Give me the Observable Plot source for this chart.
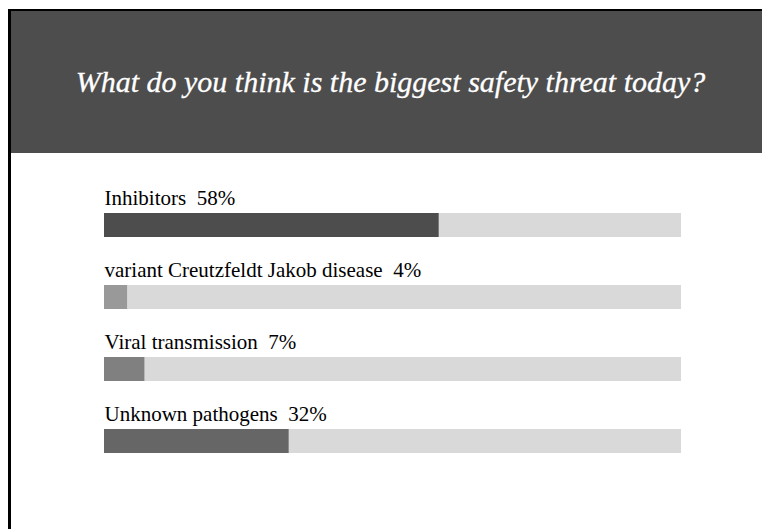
<!DOCTYPE html>
<html>
<head>
<meta charset="utf-8">
<script src="https://cdn.jsdelivr.net/npm/d3@7"></script>
<script src="https://cdn.jsdelivr.net/npm/@observablehq/plot@0.6"></script>
<style>
  html, body { margin: 0; padding: 0; background: #fff; }
  #page { position: relative; width: 762px; height: 529px; overflow: hidden; }
  #frame { position: absolute; left: 8px; top: 9px; width: 800px; height: 600px;
           border-left: 3px solid #000; border-top: 2px solid #000; }
  #header { position: absolute; left: 11px; top: 11px; width: 751px; height: 142px; background: #4d4d4d; }
  #title { position: absolute; left: 0; width: 762px; text-align: center;
           font-family: "Liberation Serif", "Times New Roman", serif; font-style: italic;
           font-size: 30px; line-height: 30px; color: #fff; top: 67px; padding-left: 19px; box-sizing: border-box;
           -webkit-text-stroke: 0.3px #fff; }
  #chart { position: absolute; left: 0; top: 153px; }
</style>
</head>
<body>
<div id="page">
  <div id="frame"></div>
  <div id="header"></div>
  <div id="title">What do you think is the biggest safety threat today?</div>
  <div id="chart"></div>
</div>
<script>
const categories = ["Inhibitors", "variant Creutzfeldt Jakob disease", "Viral transmission", "Unknown pathogens"];
const percents = [58, 4, 7, 32];
const barColors = ["#4d4d4d", "#999999", "#808080", "#666666"];
const scaleMax = 100;

const data = categories.map((c, i) => ({
  category: c,
  value: percents[i],
  label: c + "\u00a0\u00a0" + percents[i] + "%"
}));

const chart = Plot.plot({
  width: 762,
  height: 376,
  x: { domain: [0, scaleMax], range: [104, 681], axis: null },
  y: { domain: categories, range: [60, 300], paddingInner: 2 / 3, paddingOuter: 0, align: 0, axis: null },
  color: { domain: categories, range: barColors },
  style: { background: "transparent", fontFamily: "'Liberation Serif', 'Times New Roman', serif", overflow: "visible" },
  marks: [
    Plot.barX(data, { x1: () => 0, x2: () => scaleMax, y: "category", fill: "#d9d9d9" }),
    Plot.barX(data, { x1: () => 0, x2: "value", y: "category", fill: "category" }),
    Plot.text(data, { x: () => 0, y: "category", text: "label", textAnchor: "start", lineAnchor: "bottom", dy: -21, fontSize: 21, fill: "#000" })
  ]
});
document.getElementById("chart").appendChild(chart);
</script>
</body>
</html>
